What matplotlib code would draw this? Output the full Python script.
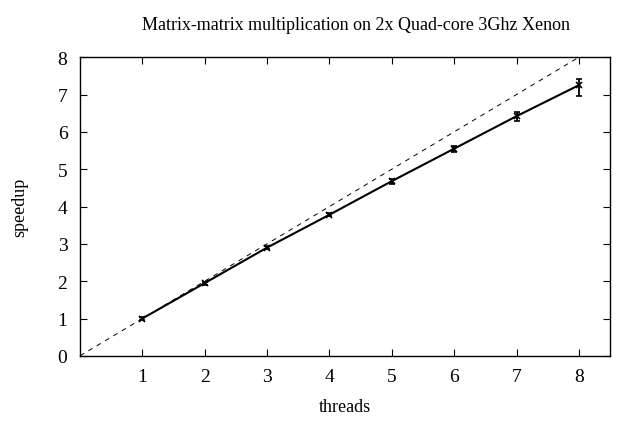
import matplotlib
matplotlib.use('Agg')
import matplotlib.pyplot as plt

threads = [1, 2, 3, 4, 5, 6, 7, 8]
speedup = [1.0, 1.95, 2.9, 3.78, 4.68, 5.55, 6.42, 7.25]
err_low = [0.03, 0.04, 0.04, 0.04, 0.08, 0.08, 0.14, 0.30]
err_high = [0.03, 0.04, 0.04, 0.04, 0.07, 0.07, 0.12, 0.17]
ideal = [0, 8]

plt.rcParams['font.family'] = ['Liberation Serif', 'DejaVu Serif']

fig = plt.figure(figsize=(6.2, 4.31), dpi=100)
ax = fig.add_axes([0.129, 0.172, 0.855, 0.693])

# ideal speedup
ax.plot(ideal, ideal, color='black', linestyle=(0, (5, 5)), linewidth=0.7)
ax.errorbar(threads, speedup, yerr=[err_low, err_high], color='black',
            linewidth=1.5, marker='x', markersize=4, markeredgewidth=1.2,
            elinewidth=1.3, capsize=2.5, capthick=1.3)

ax.set_xlim(0, 8.5)
ax.set_ylim(0, 8)
ax.set_xticks(threads)
ax.set_yticks(range(9))
ax.tick_params(direction='in', top=True, right=True, labelsize=14, length=5,
               width=0.8, pad=9)
for s in ax.spines.values():
    s.set_linewidth(1.0)

ax.set_xlabel('threads', fontsize=13, labelpad=9)
ax.set_ylabel('speedup', fontsize=13, labelpad=21)
ax.set_title('Matrix-matrix multiplication on 2x Quad-core 3Ghz Xenon',
             fontsize=13, pad=20, x=0.52)

fig.savefig('out.png', dpi=100)
